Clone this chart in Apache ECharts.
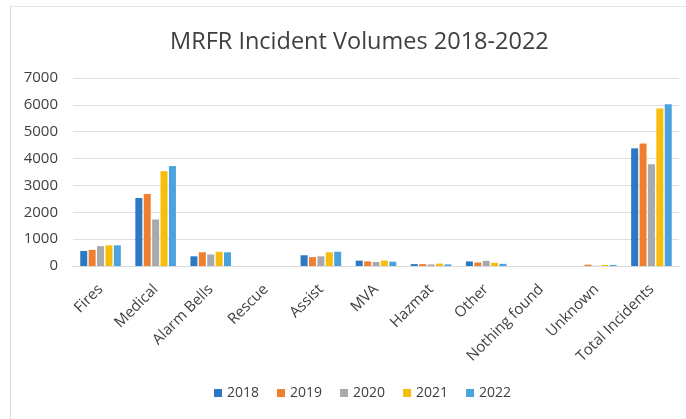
<!DOCTYPE html>
<html>
<head>
<meta charset="utf-8">
<script src="https://cdn.jsdelivr.net/npm/echarts@6/dist/echarts.min.js"></script>
<style>
  html, body { margin: 0; padding: 0; background: #ffffff; }
  #chart { width: 686px; height: 419px; }
</style>
</head>
<body>
<div id="chart"></div>
<script>
// Incident categories and yearly counts
const categories = ['Fires', 'Medical', 'Alarm Bells', 'Rescue', 'Assist', 'MVA', 'Hazmat', 'Other', 'Nothing found', 'Unknown', 'Total Incidents'];
const years = ['2018', '2019', '2020', '2021', '2022'];
const v2018 = [560, 2530, 360, 0, 400, 200, 70, 170, 0, 0, 4380];
const v2019 = [600, 2680, 510, 0, 330, 170, 70, 130, 0, 50, 4560];
const v2020 = [740, 1730, 430, 0, 360, 150, 60, 190, 0, 10, 3790];
const v2021 = [770, 3530, 530, 0, 510, 200, 90, 120, 0, 40, 5860];
const v2022 = [770, 3720, 510, 0, 530, 160, 60, 80, 0, 40, 6020];
const yTicks = [0, 1000, 2000, 3000, 4000, 5000, 6000, 7000];

const colors = ['#2B79C2', '#EF7E2E', '#A9A9AD', '#F6BE0A', '#4AA3DF'];
const seriesValues = [v2018, v2019, v2020, v2021, v2022];
const font = '"Open Sans", "Noto Sans", sans-serif';

const chart = echarts.init(document.getElementById('chart'));
chart.setOption({
  animation: false,
  backgroundColor: '#ffffff',
  color: colors,
  title: {
    text: 'MRFR Incident Volumes 2018-2022',
    left: 165,
    top: 25,
    textStyle: { fontFamily: font, fontSize: 23.5, fontWeight: 'normal', color: '#404040' }
  },
  graphic: [
    { type: 'line', shape: { x1: 10.5, y1: 6, x2: 10.5, y2: 419 }, style: { stroke: '#dcdcdc', lineWidth: 1 } },
    { type: 'line', shape: { x1: 10, y1: 6.5, x2: 686, y2: 6.5 }, style: { stroke: '#e6e6e6', lineWidth: 1 } }
  ],
  legend: {
    bottom: 14,
    left: 209,
    itemWidth: 8,
    itemHeight: 8,
    itemGap: 18,
    icon: 'rect',
    textStyle: { fontFamily: font, fontSize: 14, color: '#404040' },
    data: years
  },
  grid: { left: 73, top: 78, width: 606, bottom: 153, containLabel: false },
  xAxis: {
    type: 'category',
    data: categories,
    axisLine: { lineStyle: { color: '#d9d9d9' } },
    axisTick: { show: false },
    axisLabel: { rotate: 45, interval: 0, margin: 21, fontFamily: font, fontSize: 15, color: '#404040' }
  },
  yAxis: {
    type: 'value',
    min: yTicks[0],
    max: yTicks[yTicks.length - 1],
    interval: 1000,
    axisLine: { show: false },
    axisTick: { show: false },
    splitLine: { lineStyle: { color: '#e0e0e0' } },
    axisLabel: { margin: 15, fontFamily: font, fontSize: 15, color: '#404040', formatter: v => String(v) }
  },
  series: years.map((y, i) => ({
    name: y,
    type: 'bar',
    data: seriesValues[i],
    barWidth: 7,
    barGap: '20%'
  }))
});
</script>
</body>
</html>
